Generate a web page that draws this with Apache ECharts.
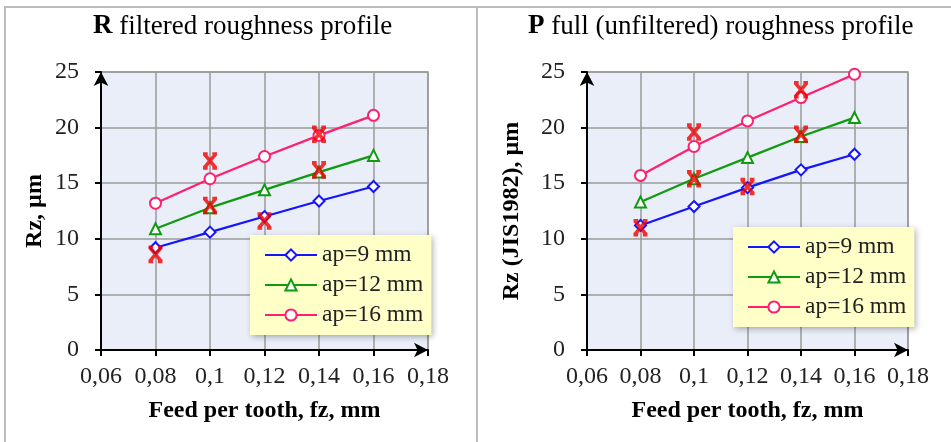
<!DOCTYPE html>
<html>
<head>
<meta charset="utf-8">
<script src="https://cdn.jsdelivr.net/npm/echarts@6/dist/echarts.min.js"></script>
<style>
  html, body { margin: 0; padding: 0; background: #fff; }
  #chart { width: 951px; height: 442px; }
</style>
</head>
<body>
<div id="chart"></div>
<script>
// feed per tooth, mm
const fz = [0.08, 0.1, 0.12, 0.14, 0.16]
const seriesNames = ['ap=9 mm', 'ap=12 mm', 'ap=16 mm']

// R filtered profile, Rz in µm
const rAp9 = [9.2, 10.6, 12.0, 13.4, 14.7]
const rAp12 = [10.9, 12.8, 14.4, 16.0, 17.5]
const rAp16 = [13.2, 15.4, 17.4, 19.3, 21.1]
const rExpX = [0.08, 0.1, 0.1, 0.12, 0.14, 0.14]
const rExpY = [8.6, 17.0, 13.0, 11.6, 19.4, 16.2]

// P full profile, Rz (JIS1982) in µm
const pAp9 = [11.2, 12.9, 14.6, 16.2, 17.6]
const pAp12 = [13.3, 15.4, 17.3, 19.2, 20.9]
const pAp16 = [15.7, 18.3, 20.6, 22.7, 24.8]
const pExpX = [0.08, 0.1, 0.1, 0.12, 0.14, 0.14]
const pExpY = [11.0, 19.6, 15.4, 14.7, 23.4, 19.4]

const serif = 'Liberation Serif'
const colors = ['#1414ff', '#109a10', '#ff1f6e']
const symbols = ['emptyDiamond', 'emptyTriangle', 'emptyCircle']
const cross = 'path://M0,0L10,10M10,0L0,10M-1,0L3,0M7,0L11,0M-1,10L3,10M7,10L11,10'

function pairs(xs, ys) {
  return xs.map((x, i) => [x, ys[i]])
}

function xAxisFor(gridIndex) {
  return {
    gridIndex, type: 'value', min: 0.06, max: 0.18, interval: 0.02,
    name: 'Feed per tooth, fz, mm', nameLocation: 'middle', nameGap: 49,
    nameTextStyle: { fontFamily: serif, fontSize: 24, fontWeight: 'bold', color: '#000' },
    axisLine: { onZero: false, lineStyle: { color: '#000', width: 2 }, symbol: ['none', 'arrow'], symbolSize: [11, 14] },
    axisTick: { show: true, length: 6, lineStyle: { color: '#000', width: 2 } },
    axisLabel: {
      fontFamily: serif, fontSize: 24, color: '#222', margin: 15,
      formatter: v => String(Math.round(v * 100) / 100).replace('.', ',')
    },
    splitLine: { show: true, lineStyle: { color: '#9a9a9a', width: 1.5 } }
  }
}

function yAxisFor(gridIndex, name, gap) {
  return {
    gridIndex, type: 'value', min: 0, max: 25, interval: 5,
    name, nameLocation: 'middle', nameGap: gap,
    nameTextStyle: { fontFamily: serif, fontSize: 24, fontWeight: 'bold', color: '#000' },
    axisLine: { show: true, onZero: false, lineStyle: { color: '#000', width: 2 }, symbol: ['none', 'arrow'], symbolSize: [11, 14] },
    axisTick: { show: true, length: 6, lineStyle: { color: '#000', width: 2 } },
    axisLabel: { fontFamily: serif, fontSize: 24, color: '#222', margin: 22 },
    splitLine: { show: true, lineStyle: { color: '#9a9a9a', width: 1.5 } }
  }
}

function lineSeries(idx, data, i) {
  return {
    name: seriesNames[i], type: 'line', xAxisIndex: idx, yAxisIndex: idx,
    data: pairs(fz, data), symbol: symbols[i], symbolSize: 11,
    color: colors[i], lineStyle: { width: 2.2 }, itemStyle: { borderWidth: 1.6 },
    z: 3
  }
}

function expSeries(idx, xs, ys) {
  return {
    name: 'exp', type: 'scatter', xAxisIndex: idx, yAxisIndex: idx,
    data: pairs(xs, ys), symbol: cross, symbolSize: 14,
    itemStyle: { color: 'transparent', borderColor: '#f00000', borderWidth: 3.6 },
    z: 4
  }
}

function legendFor(left, top) {
  return {
    data: seriesNames, orient: 'vertical', left, top,
    backgroundColor: '#ffffc8', padding: [8, 8, 8, 14], itemGap: 6,
    itemWidth: 52, itemHeight: 14,
    shadowBlur: 6, shadowColor: 'rgba(0,0,0,0.3)', shadowOffsetX: 2, shadowOffsetY: 2,
    textStyle: { fontFamily: serif, fontSize: 23.5, color: '#222' },
    selectedMode: false
  }
}

const chart = echarts.init(document.getElementById('chart'))
chart.setOption({
  animation: false,
  grid: [
    { left: 101, right: 523, top: 72, bottom: 92, show: true, backgroundColor: '#e9eef8', borderColor: '#9a9a9a', borderWidth: 1.5 },
    { left: 587, right: 43, top: 72, bottom: 92, show: true, backgroundColor: '#e9eef8', borderColor: '#9a9a9a', borderWidth: 1.5 }
  ],
  xAxis: [xAxisFor(0), xAxisFor(1)],
  yAxis: [yAxisFor(0, 'Rz, µm', 54), yAxisFor(1, 'Rz (JIS1982), µm', 63)],
  legend: [legendFor(250, 235), legendFor(733, 227)],
  graphic: [
    { type: 'line', shape: { x1: 4, y1: 7, x2: 951, y2: 7 }, style: { stroke: '#bbb', lineWidth: 2 } },
    { type: 'line', shape: { x1: 5, y1: 7, x2: 5, y2: 442 }, style: { stroke: '#bbb', lineWidth: 2 } },
    { type: 'line', shape: { x1: 477, y1: 7, x2: 477, y2: 442 }, style: { stroke: '#bbb', lineWidth: 2 } },
    {
      type: 'text', left: 93, top: 13,
      style: {
        text: '{b|R} filtered roughness profile',
        font: '27px "Liberation Serif"', fill: '#000',
        rich: { b: { fontWeight: 'bold', fontSize: 27, fontFamily: serif } }
      }
    },
    {
      type: 'text', left: 528, top: 13,
      style: {
        text: '{b|P} full (unfiltered) roughness profile',
        font: '27px "Liberation Serif"', fill: '#000',
        rich: { b: { fontWeight: 'bold', fontSize: 27, fontFamily: serif } }
      }
    }
  ],
  series: [
    lineSeries(0, rAp9, 0), lineSeries(0, rAp12, 1), lineSeries(0, rAp16, 2),
    expSeries(0, rExpX, rExpY),
    lineSeries(1, pAp9, 0), lineSeries(1, pAp12, 1), lineSeries(1, pAp16, 2),
    expSeries(1, pExpX, pExpY)
  ]
})
</script>
</body>
</html>
